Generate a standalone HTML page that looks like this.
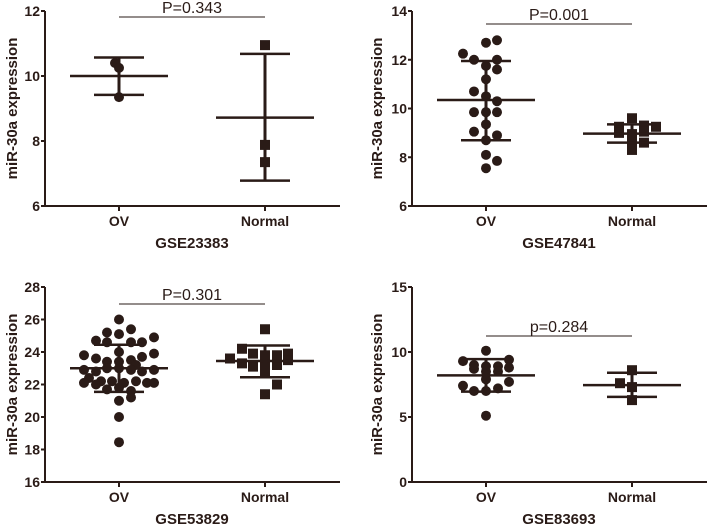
<!DOCTYPE html>
<html><head><meta charset="utf-8"><style>
body{margin:0;background:#fff;}
svg{display:block;font-family:"Liberation Sans",Arial,sans-serif;}
</style></head><body>
<svg id="fig" width="709" height="526" viewBox="0 0 709 526"></svg>
<script>
// Panel A GSE23383
const aOV=[[-4,10.4],[0,10.25],[0,9.35]];
const aNorm=[[0,10.95],[0,7.88],[0,7.35]];
const aStats=[[10.0,9.42,10.57],[8.72,6.78,10.68]];
const aTicks=[6,8,10,12];
// Panel B GSE47841
const bOV=[[-23,12.25],[-12,12.0],[0,12.7],[11,12.8],[11,12.0],[0,11.75],[11,11.6],[0,11.2],[-12,10.7],[0,10.5],[11,10.3],[-12,9.85],[0,9.85],[11,9.85],[0,9.35],[-12,9.05],[11,8.9],[0,8.7],[0,8.1],[11,7.85],[0,7.55]];
const bNorm=[[-13,9.25],[0,9.6],[12,9.3],[24,9.25],[-13,9.0],[0,8.95],[12,9.05],[0,8.6],[12,8.6],[0,8.3]];
const bStats=[[10.35,8.7,11.95],[8.97,8.6,9.35]];
const bTicks=[6,8,10,12,14];
// Panel C GSE53829
const cOV=[[0,26.0],[-12,25.2],[12,25.4],[0,25.1],[35,24.9],[-23,24.7],[-12,24.6],[12,24.6],[23,24.6],[0,24.0],[-35,23.8],[35,23.9],[-23,23.6],[23,23.7],[-12,23.4],[0,23.4],[12,23.5],[17,23.2],[-35,22.9],[-23,22.8],[-12,23.0],[0,23.0],[12,22.9],[23,22.8],[35,22.9],[-30,22.4],[-18,22.2],[-7,22.2],[5,22.1],[17,22.2],[28,22.1],[35,22.1],[-35,22.1],[-23,22.0],[-12,21.7],[0,21.8],[12,21.6],[0,21.0],[12,21.2],[0,20.0],[0,18.45]];
const cNorm=[[0,25.4],[-23,24.2],[-12,23.9],[0,23.8],[12,23.8],[23,23.9],[23,23.5],[-35,23.6],[-23,23.3],[-12,23.1],[0,23.2],[12,23.2],[0,22.8],[12,22.0],[0,21.4]];
const cStats=[[23.0,21.55,24.45],[23.45,22.45,24.4]];
const cTicks=[16,18,20,22,24,26,28];
// Panel D GSE83693
const dOV=[[0,10.1],[-23,9.3],[23,9.4],[-12,8.7],[0,8.9],[12,8.9],[23,8.8],[-12,9.0],[0,8.5],[12,8.5],[0,7.9],[-23,7.4],[23,7.7],[-12,7.0],[0,7.0],[12,7.2],[0,5.1]];
const dNorm=[[0,8.6],[-12,7.6],[0,7.3],[0,6.3]];
const dStats=[[8.2,6.95,9.45],[7.45,6.55,8.4]];
const dTicks=[0,5,10,15];

const C='#2a1b17';
const svg=document.getElementById('fig');
const NS='http://www.w3.org/2000/svg';
function mk(tag,attrs,parent){const e=document.createElementNS(NS,tag);for(const k in attrs)e.setAttribute(k,attrs[k]);(parent||svg).appendChild(e);return e;}

function panel(id,ox,oy,ticks,ov,norm,stats,pText,pY,title,ylx){
  const g=mk('g',{});
  
  
  const ax=ox+45, yTop=oy+11, yBot=oy+206, xEnd=ox+340;
  const lo=ticks[0], hi=ticks[ticks.length-1];
  const Y=v=>yBot-(v-lo)/(hi-lo)*(yBot-yTop);
  const X=[ox+119,ox+265];
  const yax=mk('line',{x1:ax,y1:yTop,x2:ax,y2:yBot,stroke:C,'stroke-width':2},g);
  
  
  const xax=mk('line',{x1:ax,y1:yBot,x2:xEnd,y2:yBot,stroke:C,'stroke-width':2},g);
  
  
  ticks.forEach(t=>{
    mk('line',{x1:ax-4,y1:Y(t),x2:ax,y2:Y(t),stroke:C,'stroke-width':2},g);
    const tl=mk('text',{x:ax-5,y:Y(t)+5,'text-anchor':'end','font-size':14,'font-weight':'bold',fill:C},g);
    tl.textContent=t;
    
    
  });
  ['OV','Normal'].forEach((n,i)=>{
    mk('line',{x1:X[i],y1:yBot,x2:X[i],y2:yBot+5,stroke:C,'stroke-width':2},g);
    const t=mk('text',{x:X[i],y:oy+226,'text-anchor':'middle','font-size':14,'font-weight':'bold',fill:C},g);
    t.textContent=n;
    
    
  });
  const tt=mk('text',{x:ox+192,y:oy+248,'text-anchor':'middle','font-size':15,'font-weight':'bold',fill:C},g);
  tt.textContent=title;
  
  
  const yl=mk('text',{x:0,y:0,'text-anchor':'middle','font-size':15,'font-weight':'bold',fill:C,transform:`translate(${ox+ylx},${(yTop+yBot)/2}) rotate(-90)`},g);
  yl.textContent='miR-30a expression';
  
  
  const pl=mk('line',{x1:X[0],y1:oy+pY,x2:X[1],y2:oy+pY,stroke:C,'stroke-width':1},g);
  
  
  const pt=mk('text',{x:(X[0]+X[1])/2,y:oy+pY-4,'text-anchor':'middle','font-size':16,fill:C},g);
  pt.textContent=pText;
  
  
  ov.forEach(p=>{
    const c=mk('circle',{cx:X[0]+p[0],cy:Y(p[1]),r:5,fill:C},g);
    
    
  });
  norm.forEach(p=>{
    const r=mk('rect',{x:X[1]+p[0]-5,y:Y(p[1])-5,width:10,height:10,fill:C},g);
    
    
  });
  stats.forEach((s,i)=>{
    const x=X[i];
    const m=mk('line',{x1:x-49,y1:Y(s[0]),x2:x+49,y2:Y(s[0]),stroke:C,'stroke-width':2.5},g);
    
    
    const v=mk('line',{x1:x,y1:Y(s[1]),x2:x,y2:Y(s[2]),stroke:C,'stroke-width':3},g);
    
    
    [s[1],s[2]].forEach(w=>{
      const c=mk('line',{x1:x-25,y1:Y(w),x2:x+25,y2:Y(w),stroke:C,'stroke-width':2.5},g);
      
      
    });
  });
}
panel('gse23383',0,0,aTicks,aOV,aNorm,aStats,'P=0.343',17,'GSE23383',17);
panel('gse47841',367,0,bTicks,bOV,bNorm,bStats,'P=0.001',24,'GSE47841',15);
panel('gse53829',0,276,cTicks,cOV,cNorm,cStats,'P=0.301',28,'GSE53829',17);
panel('gse83693',367,276,dTicks,dOV,dNorm,dStats,'p=0.284',60,'GSE83693',15);
</script>
</body></html>
